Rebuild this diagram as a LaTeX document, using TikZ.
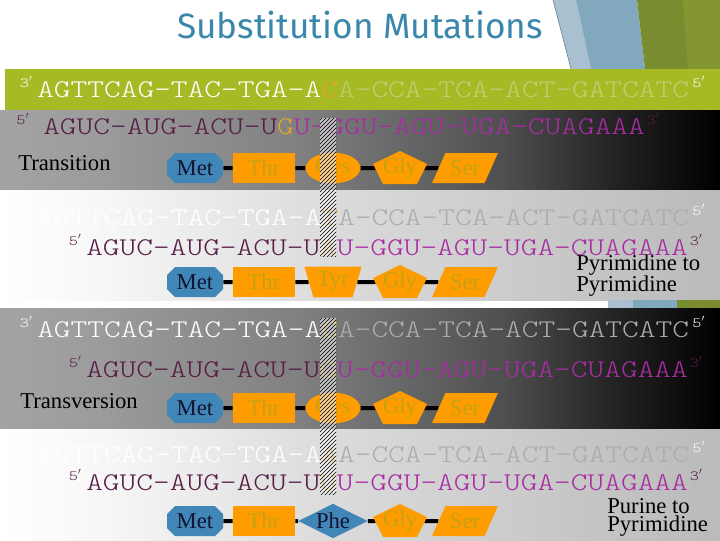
\documentclass[tikz,border=0pt]{standalone}
\usepackage{fontspec}
\setmainfont{Liberation Serif}
\newfontfamily\titlefont{Fira Sans}
\newfontfamily\seqfont{lmmonolt10-regular.otf}[FakeStretch=1.25]
\usetikzlibrary{shapes.geometric,patterns}

\definecolor{titleblue}{RGB}{59,135,172}
\definecolor{bandolive}{RGB}{166,186,38}
\definecolor{decoblue}{RGB}{130,168,190}
\definecolor{decolight}{RGB}{168,192,207}
\definecolor{decoedge}{RGB}{90,120,140}
\definecolor{decoolive}{RGB}{122,140,48}
\definecolor{decoolive2}{RGB}{132,150,50}
\definecolor{mutorange}{RGB}{228,165,40}
\definecolor{restolive}{RGB}{192,206,112}
\definecolor{restgray}{RGB}{172,172,172}
\definecolor{rnapurple}{RGB}{88,28,70}
\definecolor{rnamagenta}{RGB}{168,44,164}
\definecolor{aaorange}{RGB}{255,156,0}
\definecolor{aablue}{RGB}{64,134,182}
\definecolor{aatext}{RGB}{196,162,20}
\definecolor{aanavy}{RGB}{20,20,50}

\pgfdeclarehorizontalshading{darkband}{100bp}{color(0bp)=(white!64!black); color(25bp)=(white!64!black); color(32bp)=(white!61!black); color(46bp)=(white!50!black); color(60bp)=(white!31!black); color(67bp)=(white!15!black); color(75bp)=(black); color(100bp)=(black)}
\pgfdeclarehorizontalshading{lightband}{100bp}{color(0bp)=(white); color(25bp)=(white); color(32bp)=(white!97!black); color(46bp)=(white!87!black); color(60bp)=(white!80!black); color(75bp)=(white!73!black); color(100bp)=(white!73!black)}

\pgfdeclarelayer{back}
\pgfdeclarelayer{links}
\pgfsetlayers{back,links,main}

\begin{document}
\begin{tikzpicture}[x=0.75pt, y=-0.75pt,
    seq/.style={font=\seqfont\fontsize{19.1}{19.1}\selectfont, inner sep=0pt, anchor=base west},
    sup/.style={font=\seqfont\fontsize{10.5}{10.5}\selectfont, inner sep=0pt},
    aa/.style={font=\fontsize{17}{17}\selectfont, inner sep=0pt, text=aatext},
    metnode/.style={aa, text=aanavy, minimum width=42pt, minimum height=22.5pt},
    thrnode/.style={aa, rectangle, fill=aaorange, minimum width=46.5pt, minimum height=22.5pt},
    cysnode/.style={aa, ellipse, fill=aaorange, minimum width=41pt, minimum height=23pt},
    tyrnode/.style={aa, trapezium, trapezium stretches=true, shape border rotate=180, trapezium left angle=70, trapezium right angle=70, fill=aaorange, minimum width=43pt, minimum height=23pt},
    phenode/.style={aa, diamond, aspect=2, fill=aablue, text=aanavy, minimum width=52pt, minimum height=26pt},
    glynode/.style={aa, minimum width=36pt, minimum height=24pt},
    sernode/.style={aa, trapezium, trapezium stretches=true, trapezium left angle=56, trapezium right angle=124, fill=aaorange, minimum width=49.5pt, minimum height=22.5pt},
    link/.style={line width=3pt},
    rowlabel/.style={font=\fontsize{17}{17}\selectfont, anchor=base west, inner sep=0pt}]
    \useasboundingbox (0,0) rectangle (720,540);

    \begin{pgfonlayer}{back}
        % Slide and corner decoration
        \fill[white] (0,0) rectangle (720,540);
        \fill[decolight] (553,0) -- (576,0) -- (591,69) -- (571,69) -- cycle;
        \fill[decoblue] (576,0) -- (637,0) -- (645,69) -- (591,69) -- cycle;
        \fill[decoolive] (637,0) -- (720,0) -- (720,69) -- (645,69) -- cycle;
        \fill[decoolive2] (683,0) -- (720,0) -- (720,69) -- (688,69) -- cycle;
        \draw[decoedge, thin] (553,0) -- (571,69);
        % Bands
        \fill[bandolive] (5,69) rectangle (720,110);
        \shade[shading=darkband] (0,110) rectangle (720,190);
        \shade[shading=lightband] (0,190) rectangle (720,300);
        \fill[decolight] (608,300) rectangle (633,308);
        \fill[decoblue] (633,300) rectangle (677,308);
        \fill[decoolive] (677,300) rectangle (720,308);
        \shade[shading=darkband] (0,308) rectangle (720,429);
        \shade[shading=lightband] (0,429) rectangle (720,540);
    \end{pgfonlayer}

    % Title
    \node[font=\titlefont\fontsize{26.4}{26.4}\selectfont, text=titleblue, anchor=base] (title) at (360,38) {Substitution Mutations};

    % Template strands
    \foreach \r/\y/\m/\rc in {1/97/C/restolive, 2/225/T/restgray, 3/337/C/restgray, 4/462/A/restgray} {
        \node[seq] (tmp\r) at (37,\y) {\color{white}AGTTCAG-TAC-TGA-A\color{mutorange}\m\color{\rc}A-CCA-TCA-ACT-GATCATC};
        \node[sup, anchor=base east, text=white, yshift=7.5pt, xshift=-3pt] (tmpL\r) at (tmp\r.base west) {3$'$};
        \node[sup, anchor=base west, text=white, yshift=7.5pt, xshift=2pt] (tmpR\r) at (tmp\r.base east) {5$'$};
    }

    % mRNA strands
    \foreach \r/\x/\y/\m/\gap in {1/43/134/G/-10pt, 2/86/255/A/-3pt, 3/86/377/G/-3pt, 4/86/490/U/-3pt} {
        \node[seq] (rna\r) at (\x,\y) {\color{rnapurple}AGUC-AUG-ACU-U\color{mutorange}\m\color{rnamagenta}U-GGU-AGU-UGA-CUAGAAA};
        \node[sup, anchor=base east, text=rnapurple, yshift=7.5pt, xshift=\gap] (rnaL\r) at (rna\r.base west) {5$'$};
        \node[sup, anchor=base west, text=rnapurple, yshift=7.5pt, xshift=1pt] (rnaR\r) at (rna\r.base east) {3$'$};
    }

    % Amino acid chains
    \foreach \r/\y/\shp/\nm in {1/168/cysnode/Cys, 2/282/tyrnode/Tyr, 3/408/cysnode/Cys, 4/521/phenode/Phe} {
        \fill[aablue] (175,\y-15) -- (215,\y-15) -- (223,\y-7) -- (223,\y+7) -- (215,\y+15) -- (175,\y+15) -- (167,\y+7) -- (167,\y-7) -- cycle;
        \fill[aaorange] (400,\y-17) -- (427,\y-4) -- (417,\y+16) -- (383,\y+16) -- (373,\y-4) -- cycle;
        \node[metnode] (met\r) at (195,\y) {Met};
        \node[thrnode] (thr\r) at (264,\y) {Thr};
        \node[\shp] (mid\r) at (333,\y) {\nm};
        \node[glynode] (gly\r) at (400,\y) {Gly};
        \node[sernode] (ser\r) at (465,\y) {Ser};
        \begin{pgfonlayer}{links}
            \draw[link] (met\r) -- (thr\r) -- (mid\r) -- (gly\r) -- (ser\r);
        \end{pgfonlayer}
    }

    % Labels
    \node[rowlabel] (trs) at (18,170) {Transition};
    \node[rowlabel] (trv) at (20,408) {Transversion};
    \node[rowlabel] (pyrA) at (576,270) {Pyrimidine to};
    \node[rowlabel] (pyrB) at (576,291) {Pyrimidine};
    \node[rowlabel] (purA) at (607,513) {Purine to};
    \node[rowlabel] (purB) at (607,531) {Pyrimidine};

    % Mutated base
    \foreach \ya/\yb in {118/256, 318/494} {
        \fill[white, opacity=0.55] (320,\ya) rectangle (336,\yb);
        \fill[pattern=north east lines, pattern color=black] (320,\ya) rectangle (336,\yb);
    }
\end{tikzpicture}
\end{document}
